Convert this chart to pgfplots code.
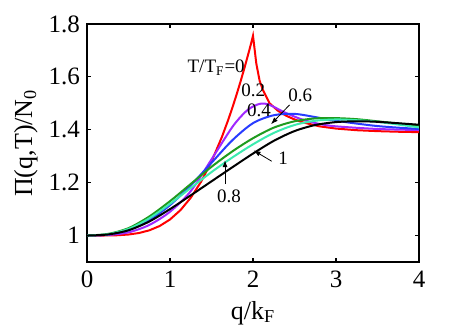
\documentclass[border=0pt]{standalone}
\usepackage{fontspec}
\setmainfont{Liberation Serif}
\usepackage{pgfplots}
\pgfplotsset{compat=1.18}
\usetikzlibrary{arrows.meta,calc}
\definecolor{tzero}{RGB}{255,0,0}
\definecolor{ttwo}{RGB}{160,40,255}
\definecolor{tfour}{RGB}{40,60,255}
\definecolor{tsix}{RGB}{30,155,30}
\definecolor{teight}{RGB}{60,235,175}
\definecolor{tone}{RGB}{0,0,0}

\begin{document}
\begin{tikzpicture}
\begin{axis}[name=ax,
  scale only axis, width=166pt, height=119pt,
  xmin=0, xmax=4, ymin=0.9, ymax=1.8,
  xtick={0,1,2,3,4}, ytick={1,1.2,1.4,1.6,1.8},
  tick align=inside, major tick length=2pt,
  axis line style={line width=1.4pt},
  tick style={line width=0.6pt,black},
  /pgf/number format/assume math mode=true,
  xticklabel={\pgfmathprintnumber{\tick}},
  yticklabel={\pgfmathprintnumber{\tick}},
  ticklabel style={font=\fontsize{12.5}{13}\selectfont},
  xticklabel style={yshift=-1pt},
  xlabel={q/k\textsubscript{F}},
  ylabel={Π(q,T)/N\textsubscript{0}},
  label style={font=\fontsize{13}{14}\selectfont},
  xlabel style={at={(axis description cs:0.5,-0.135)},anchor=north},
  ylabel style={at={(axis description cs:-0.127,0.5)},anchor=south,rotate=0},
  every axis plot/.append style={line width=1pt},
  clip=true]

% T/T_F = 0
\addplot[tzero] coordinates {
 (0,1) (0.25,1.0002) (0.375,1.0012) (0.5,1.0039) (0.625,1.0095) (0.75,1.0196)
 (0.875,1.0360) (1,1.0607) (1.125,1.0957) (1.25,1.1428) (1.375,1.2038)
 (1.5,1.2800) (1.625,1.3725) (1.7,1.4362) (1.75,1.4821) (1.8,1.5309)
 (1.85,1.5826) (1.9,1.6371) (1.95,1.6945) (1.975,1.7243) (2,1.7554)
 (2.04,1.650) (2.08,1.585) (2.12,1.550) (2.2,1.500) (2.3,1.472)
 (2.4,1.453) (2.5,1.439) (2.6,1.428) (2.8,1.413)
 (3,1.4045) (3.25,1.3983) (3.5,1.3948) (3.75,1.3925) (4,1.3910)};
% 0.2
\addplot[ttwo,smooth] coordinates {
 (0,1) (0.25,1.002) (0.5,1.012) (0.75,1.04) (1,1.09) (1.25,1.168)
 (1.5,1.288) (1.75,1.41) (1.9,1.465) (2,1.488) (2.1,1.499) (2.2,1.494)
 (2.4,1.463) (2.6,1.438) (2.8,1.422) (3,1.413) (3.5,1.403) (4,1.399)};
% 0.4
\addplot[tfour,smooth] coordinates {
 (0,1) (0.25,1.004) (0.5,1.02) (0.75,1.058) (1,1.115) (1.25,1.19)
 (1.5,1.275) (1.75,1.36) (2,1.425) (2.25,1.455) (2.5,1.46) (2.75,1.448)
 (3,1.434) (3.5,1.414) (4,1.403)};
% 0.6
\addplot[tsix,smooth] coordinates {
 (0,1) (0.25,1.006) (0.5,1.028) (0.75,1.072) (1,1.13) (1.25,1.195)
 (1.5,1.26) (1.75,1.318) (2,1.368) (2.25,1.408) (2.5,1.432) (2.75,1.443)
 (3,1.444) (3.25,1.44) (3.5,1.432) (4,1.415)};
% 0.8
\addplot[teight,smooth] coordinates {
 (0,1) (0.25,1.005) (0.5,1.025) (0.75,1.065) (1,1.12) (1.25,1.18)
 (1.5,1.24) (1.75,1.295) (2,1.345) (2.25,1.388) (2.5,1.418) (2.75,1.434)
 (3,1.439) (3.25,1.436) (3.5,1.43) (4,1.409)};
% 1
\addplot[tone,smooth] coordinates {
 (0,1) (0.25,1.004) (0.5,1.02) (0.75,1.053) (1,1.10) (1.25,1.152)
 (1.5,1.205) (1.75,1.258) (2,1.31) (2.25,1.358) (2.5,1.395) (2.75,1.418)
 (3,1.429) (3.25,1.432) (3.5,1.43) (4,1.419)};

\begin{scope}[font=\fontsize{9.5}{10}\selectfont,inner sep=0pt]
\node[anchor=base east] at (axis cs:1.905,1.616) {T/T\textsubscript{F}=0};
\node[anchor=base west] at (axis cs:1.855,1.525) {0.2};
\node[anchor=base west] at (axis cs:1.924,1.450) {0.4};
\node[anchor=base west] at (axis cs:2.42,1.506) {0.6};
\node[anchor=base west] at (axis cs:2.30,1.269) {1};
\node[anchor=base west] at (axis cs:1.562,1.125) {0.8};
\end{scope}
\draw[line width=0.4pt,-{Latex[length=3.5pt,width=2.5pt]}] (axis cs:2.44,1.494) -- (axis cs:2.217,1.421);
\draw[line width=0.4pt,-{Latex[length=3.5pt,width=2.5pt]}] (axis cs:2.225,1.281) -- (axis cs:2.007,1.322);
\draw[line width=0.4pt,-{Latex[length=3.5pt,width=2.5pt]}] (axis cs:1.663,1.194) -- (axis cs:1.663,1.285);
\end{axis}
\pgfresetboundingbox
\path ($(ax.south west)+(-43.5pt,-32.5pt)$) rectangle ($(ax.north east)+(22pt,12pt)$);
\end{tikzpicture}
\end{document}
